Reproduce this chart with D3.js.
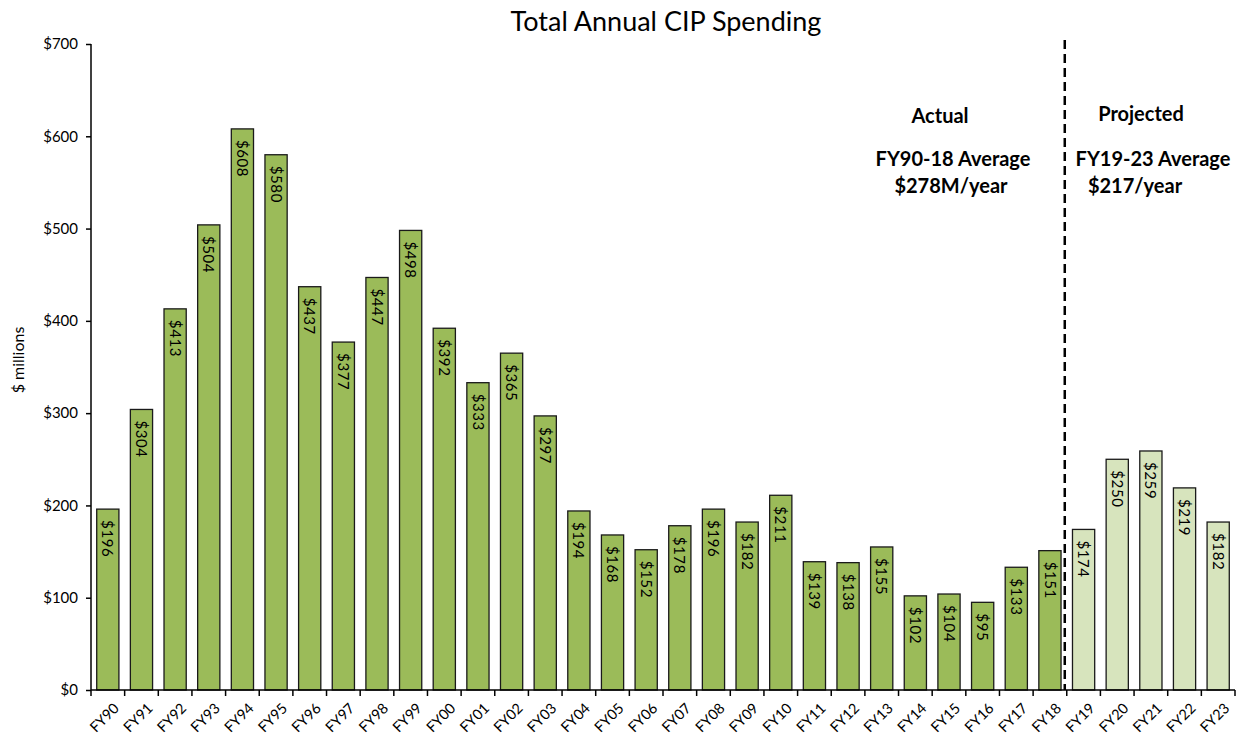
<!doctype html>
<html>
<head>
  <script src="https://cdnjs.cloudflare.com/ajax/libs/d3/7.8.5/d3.min.js" type="text/JavaScript"></script>
  <style>
    body { margin: 0; background: #fff; }
    text { font-family: Lato, "Noto Sans", sans-serif; fill: #000; }
  </style>
</head>
<body>
<svg height="744" width="1239"></svg>
<script type="text/javascript">
var years = ["FY90","FY91","FY92","FY93","FY94","FY95","FY96","FY97","FY98","FY99",
             "FY00","FY01","FY02","FY03","FY04","FY05","FY06","FY07","FY08","FY09",
             "FY10","FY11","FY12","FY13","FY14","FY15","FY16","FY17","FY18",
             "FY19","FY20","FY21","FY22","FY23"]
var spending = [196,304,413,504,608,580,437,377,447,498,
                392,333,365,297,194,168,152,178,196,182,
                211,139,138,155,102,104,95,133,151,
                174,250,259,219,182]
var projectedFrom = "FY19"
var yTicks = [0,100,200,300,400,500,600,700]

var data = years.map((y, i) => ({year: y, value: spending[i], projected: i >= years.indexOf(projectedFrom)}))

var svg = d3.select("svg")
var x = d3.scaleBand().domain(years).range([91, 1235]).paddingInner(0.34).paddingOuter(0.17)
var y = d3.scaleLinear().domain([0, 700]).range([690, 44])

// bars
svg.append("g").selectAll("rect").data(data)
   .enter()
   .append("rect")
   .attr("x", d => x(d.year))
   .attr("y", d => y(d.value))
   .attr("width", x.bandwidth())
   .attr("height", d => y(0) - y(d.value))
   .style("fill", d => d.projected ? "#D7E4BD" : "#9BBB59")
   .style("stroke", "#1a1a1a")
   .style("stroke-width", 1.3)

// value labels, rotated inside the bar
svg.append("g").selectAll("text").data(data)
   .enter()
   .append("text")
   .attr("transform", d => "translate(" + (x(d.year) + x.bandwidth() / 2) + "," + (y(d.value) + 11) + ") rotate(90)")
   .attr("dy", "0.36em")
   .style("font-size", "15px")
   .style("letter-spacing", "0.6px")
   .text(d => "$" + d.value)

// y axis
var yAxis = d3.axisLeft(y).tickValues(yTicks).tickSize(5).tickPadding(8).tickFormat(d => "$" + d)
var gy = svg.append("g").attr("transform", "translate(91,0)").call(yAxis)
gy.select(".domain").attr("d", "M0,44V690").style("stroke-width", 1.5)
gy.selectAll(".tick line").style("stroke-width", 1.5)
gy.selectAll(".tick text").style("font-size", "15px").style("font-family", "Lato, sans-serif")

// x axis: ticks at category boundaries
var step = x.step()
var boundaries = years.map(d => x(d) - x.paddingInner() * step / 2).concat([1235])
var gx = svg.append("g")
gx.append("line").attr("x1", 91).attr("x2", 1235).attr("y1", 690).attr("y2", 690)
  .style("stroke", "#000").style("stroke-width", 1.5)
gx.selectAll("line.tk").data(boundaries)
  .enter()
  .append("line")
  .attr("class", "tk")
  .attr("x1", d => d).attr("x2", d => d)
  .attr("y1", 690).attr("y2", 696)
  .style("stroke", "#000").style("stroke-width", 1.5)
gx.selectAll("text").data(years)
  .enter()
  .append("text")
  .attr("transform", d => "translate(" + (x(d) + x.bandwidth() / 2 + 5) + ",702) rotate(-45)")
  .attr("text-anchor", "end")
  .attr("dy", "0.7em")
  .style("font-size", "14.5px")
  .text(d => d)

// divider between actual and projected
var divX = x(projectedFrom) - x.paddingInner() * step / 2 - 2
svg.append("line")
   .attr("x1", divX).attr("x2", divX)
   .attr("y1", 40).attr("y2", 690)
   .style("stroke", "#000")
   .style("stroke-width", 2.5)
   .style("stroke-dasharray", "9,5")

// titles
svg.append("text").attr("x", 666).attr("y", 31).attr("text-anchor", "middle")
   .style("font-size", "27px").text("Total Annual CIP Spending")
svg.append("text").attr("transform", "translate(24,360) rotate(-90)").attr("text-anchor", "middle")
   .style("font-size", "16px").text("$ millions")

// annotations
var notes = [
  {t: "Actual", x: 940, y: 123},
  {t: "FY90-18 Average", x: 953, y: 166},
  {t: "$278M/year", x: 951, y: 193},
  {t: "Projected", x: 1141, y: 121},
  {t: "FY19-23 Average", x: 1153, y: 166},
  {t: "$217/year", x: 1135, y: 193}
]
svg.append("g").selectAll("text").data(notes)
   .enter()
   .append("text")
   .attr("x", d => d.x).attr("y", d => d.y)
   .attr("text-anchor", "middle")
   .style("font-size", "20px")
   .style("font-weight", "bold")
   .text(d => d.t)
</script>
</body>
</html>
